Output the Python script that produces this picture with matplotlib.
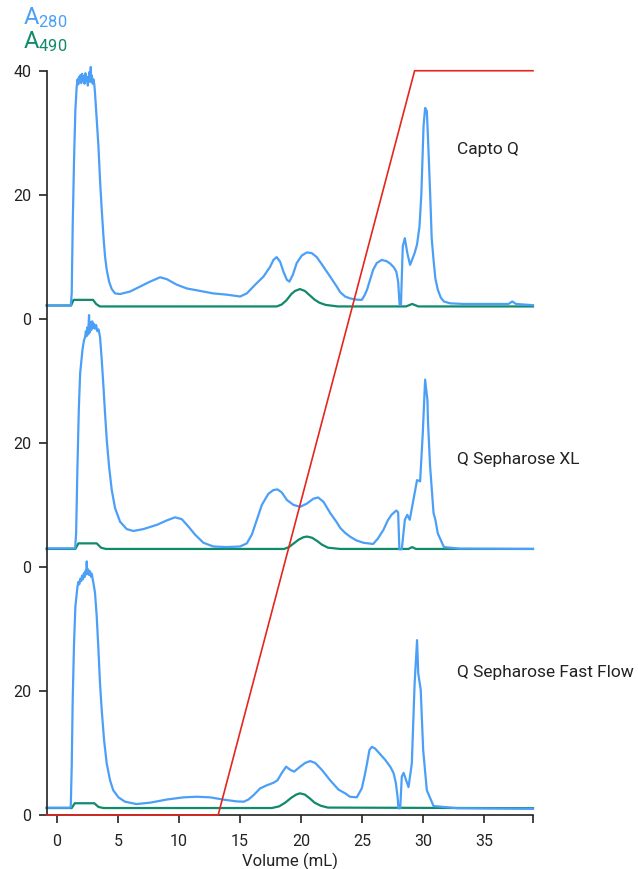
import matplotlib
matplotlib.use('Agg')
import matplotlib.pyplot as plt

plt.rcParams['font.family'] = ['Roboto', 'DejaVu Sans']
plt.rcParams['mathtext.fontset'] = 'custom'
plt.rcParams['mathtext.rm'] = 'Roboto'
plt.rcParams['mathtext.it'] = 'Roboto'

# --- Capto Q (top trace) ---
capto_x = [-0.85, 1.12, 1.20, 1.28, 1.39, 1.50, 1.61, 1.68, 1.74, 1.80, 1.86, 1.92, 1.98,
           2.05, 2.12, 2.18, 2.25, 2.32, 2.38, 2.45, 2.52, 2.58, 2.65, 2.72, 2.76, 2.80,
           2.85, 2.92, 2.98, 3.05, 3.11, 3.25, 3.39, 3.52, 3.66, 3.80, 3.93, 4.07, 4.26,
           4.48, 4.75, 5.16, 5.98, 6.80, 7.62, 8.44, 8.99, 9.81, 10.63, 11.72, 12.80,
           13.90, 15.00, 15.55, 16.23, 16.91, 17.46, 17.73, 18.00, 18.28, 18.55, 18.83,
           19.04, 19.32, 19.64, 20.05, 20.46, 20.87, 21.28, 21.83, 22.38, 22.92, 23.20,
           23.60, 24.00, 24.50, 24.97, 25.20, 25.40, 25.65, 25.90, 26.20, 26.60, 27.00,
           27.30, 27.60, 27.80, 27.95, 28.07, 28.18, 28.33, 28.50, 28.70, 28.93, 29.30,
           29.50, 29.70, 29.85, 30.03, 30.16, 30.30, 30.40, 30.57, 30.70, 30.85, 31.00,
           31.20, 31.45, 31.70, 32.20, 33.30, 37.00, 37.30, 37.60, 39.00]
capto_a280 = [2.15, 2.15, 4.1, 14.9, 25.6, 33.7, 37.5, 38.6, 37.8, 39.0, 38.2, 39.3, 38.0,
              39.5, 38.4, 39.1, 37.9, 39.6, 38.3, 39.0, 37.6, 38.8, 39.8, 38.2, 40.6, 38.5,
              39.2, 37.9, 38.6, 37.8, 36.4, 32.1, 27.8, 22.4, 17.6, 13.3, 10.05, 7.9, 6.0,
              4.8, 4.1, 4.0, 4.4, 5.2, 6.0, 6.7, 6.4, 5.5, 4.9, 4.5, 4.1,
              3.9, 3.6, 4.1, 5.5, 6.8, 8.4, 9.5, 9.95, 9.2, 7.6, 6.3,
              6.0, 7.1, 9.0, 10.2, 10.7, 10.6, 9.95, 8.4, 6.8, 5.2, 4.3,
              3.6, 3.3, 3.1, 3.06, 3.8, 4.7, 6.3, 7.9, 9.0, 9.5, 9.3,
              8.9, 8.3, 7.6, 6.0, 2.26, 2.26, 11.7, 13.0, 10.6, 8.7, 10.6,
              12.0, 14.9, 20.0, 31.0, 34.0, 33.5, 29.0, 20.3, 13.0, 9.5, 6.5,
              4.7, 3.4, 2.8, 2.5, 2.4, 2.4, 2.8, 2.4, 2.2]
capto_a490_x = [-0.85, 1.15, 1.35, 2.95, 3.2, 3.5, 18.0, 18.4, 18.8, 19.2, 19.5, 19.9,
                20.3, 20.7, 21.1, 21.5, 22.0, 23.0, 28.6, 29.1, 29.6, 39.0]
capto_a490 = [2.15, 2.15, 3.06, 3.06, 2.4, 2.0, 2.0, 2.3, 3.0, 4.0, 4.5, 4.8,
              4.5, 3.8, 3.1, 2.6, 2.25, 2.0, 2.0, 2.4, 2.0, 2.0]

# --- Q Sepharose XL (middle trace) ---
xl_x = [-0.85, 1.48, 1.56, 1.67, 1.78, 1.89, 2.08, 2.20, 2.30, 2.36, 2.42, 2.48, 2.55,
        2.62, 2.66, 2.72, 2.80, 2.88, 2.95, 3.02, 3.10, 3.20, 3.30, 3.40, 3.52, 3.66,
        3.80, 3.93, 4.07, 4.26, 4.48, 4.75, 5.16, 5.71, 6.25, 7.07, 8.20, 8.99, 9.67,
        10.22, 10.77, 11.31, 11.99, 12.80, 13.90, 15.00, 15.55, 15.96, 16.37, 16.78,
        17.32, 17.73, 18.06, 18.42, 18.83, 19.37, 19.92, 20.46, 21.00, 21.40, 21.83,
        22.38, 22.92, 23.20, 23.60, 24.00, 24.50, 25.10, 25.90, 26.30, 26.75, 27.10,
        27.40, 27.80, 27.95, 28.05, 28.25, 28.50, 28.70, 28.90, 29.20, 29.50, 29.75,
        29.97, 30.16, 30.35, 30.40, 30.57, 30.85, 31.00, 31.20, 31.70, 33.00, 39.00]
xl_a280 = [3.0, 3.0, 5.4, 16.2, 25.3, 31.2, 35.0, 36.5, 37.1, 38.0, 37.2, 38.6, 37.5,
           40.6, 37.8, 39.5, 38.2, 39.6, 38.5, 39.2, 38.4, 39.0, 38.0, 38.3, 37.1, 33.4,
           29.1, 24.8, 20.5, 16.2, 12.4, 9.5, 7.3, 6.1, 5.8, 6.1, 6.8, 7.5, 8.0,
           7.7, 6.5, 5.2, 3.9, 3.3, 3.2, 3.3, 3.8, 5.2, 7.6, 10.0,
           11.8, 12.4, 12.5, 12.0, 10.8, 10.0, 9.7, 10.2, 11.0, 11.2, 10.5,
           8.7, 7.2, 6.3, 5.5, 4.9, 4.3, 3.9, 3.7, 4.6, 6.0, 7.5,
           8.4, 9.1, 8.8, 2.85, 2.85, 7.6, 8.4, 7.6, 10.8, 14.0, 13.8,
           21.6, 30.2, 26.9, 23.2, 16.2, 8.7, 7.6, 5.4, 3.2, 2.95, 2.9]
xl_a490_x = [-0.85, 1.5, 1.75, 3.25, 3.6, 4.0, 18.6, 19.0, 19.4, 19.8, 20.2, 20.5,
             20.9, 21.3, 21.7, 22.2, 23.2, 28.8, 29.1, 29.4, 39.0]
xl_a490 = [2.9, 2.9, 3.8, 3.8, 3.1, 2.9, 2.9, 3.2, 3.8, 4.4, 4.8, 4.9,
           4.7, 4.2, 3.6, 3.1, 2.9, 2.9, 3.2, 2.9, 2.9]

# --- Q Sepharose Fast Flow (bottom trace) ---
ff_x = [-0.85, 1.07, 1.12, 1.20, 1.28, 1.39, 1.50, 1.67, 1.75, 1.82, 1.90, 1.97, 2.05,
        2.12, 2.20, 2.27, 2.34, 2.40, 2.43, 2.47, 2.54, 2.62, 2.70, 2.78, 2.85, 2.92,
        2.98, 3.11, 3.25, 3.39, 3.52, 3.66, 3.85, 4.07, 4.34, 4.60, 5.03, 5.57, 6.50,
        7.62, 8.99, 10.36, 11.45, 12.54, 13.60, 14.70, 15.30, 15.68, 16.10, 16.64,
        17.20, 17.73, 18.06, 18.42, 18.77, 19.10, 19.43, 19.92, 20.33, 20.74, 21.15,
        21.69, 22.38, 23.06, 23.61, 24.00, 24.56, 24.97, 25.19, 25.40, 25.60, 25.80,
        26.07, 26.48, 26.89, 27.30, 27.57, 27.76, 27.90, 27.98, 28.12, 28.25, 28.40,
        28.80, 29.07, 29.30, 29.50, 29.60, 29.80, 30.00, 30.30, 30.85, 32.80, 39.00]
ff_a280 = [1.18, 1.18, 1.3, 7.8, 18.5, 27.7, 33.6, 36.8, 37.6, 37.2, 38.1, 37.7, 38.6,
           38.0, 39.0, 38.4, 39.4, 38.8, 40.9, 38.9, 39.6, 38.7, 39.3, 38.4, 38.9, 38.0,
           37.4, 35.8, 32.0, 26.6, 21.2, 16.9, 12.1, 8.3, 5.6, 4.0, 2.85, 2.15, 1.77,
           1.99, 2.5, 2.85, 2.95, 2.85, 2.5, 2.2, 2.15, 2.5, 3.2, 4.3,
           4.8, 5.2, 5.6, 6.8, 7.8, 7.3, 7.0, 7.8, 8.4, 8.7, 8.4,
           7.3, 5.6, 4.1, 3.5, 2.95, 2.85, 4.3, 6.2, 8.3, 10.5, 11.0,
           10.7, 9.8, 8.9, 7.8, 6.8, 5.2, 3.0, 1.08, 1.08, 6.2, 6.8,
           4.5, 8.3, 21.2, 28.2, 22.8, 20.2, 10.5, 4.0, 1.45, 1.1, 1.0]
ff_a490_x = [-0.85, 1.2, 1.45, 3.05, 3.4, 3.8, 17.6, 18.2, 18.7, 19.2, 19.6, 19.9,
             20.3, 20.7, 21.1, 21.6, 22.2, 39.0]
ff_a490 = [1.13, 1.13, 1.9, 1.9, 1.3, 1.13, 1.13, 1.4, 2.0, 2.8, 3.3, 3.5,
           3.3, 2.7, 2.0, 1.5, 1.2, 1.1]

# --- salt gradient (% B) ---
grad_x = [-0.85, 13.2, 29.3, 39.0]
grad_b = [0, 0, 100, 100]

names = ['Capto Q', 'Q Sepharose XL', 'Q Sepharose Fast Flow']
label_y = [27.3, 17.3, 22.9]

blue = '#4B9FF7'
green = '#108A6B'
red = '#E5261D'

traces = [(capto_x, capto_a280, capto_a490_x, capto_a490),
          (xl_x, xl_a280, xl_a490_x, xl_a490),
          (ff_x, ff_a280, ff_a490_x, ff_a490)]
offsets = [80, 40, 0]

fig = plt.figure(figsize=(6.38, 8.69), dpi=100)
ax = fig.add_axes([0.0732, 0.0621, 0.7622, 0.8565])

for (x280, y280, x490, y490), off, name, ly in zip(traces, offsets, names, label_y):
    ax.plot(x490, [v + off for v in y490], color=green, lw=1.6, clip_on=False,
            solid_joinstyle='round')
    ax.plot(x280, [v + off for v in y280], color=blue, lw=1.6, clip_on=False,
            solid_joinstyle='round')
    ax.text(32.8, ly + off, name, fontsize=12.5, color='#222222', va='center', ha='left')

ax.plot(grad_x, [b * 1.2 for b in grad_b], color=red, lw=1.2, clip_on=False, zorder=5)

ax.set_xlim(-0.85, 39.0)
ax.set_ylim(0, 120)
ax.set_xticks([0, 5, 10, 15, 20, 25, 30, 35])
ax.set_xticks([39], minor=True)
ax.set_yticks([0, 20, 40, 60, 80, 100, 120])
ax.set_yticklabels(['0', '20', '0', '20', '0', '20', '40'])
ax.tick_params(axis='both', which='both', direction='out', length=6, width=1.2,
               labelsize=11.5, colors='#222222')
ax.tick_params(axis='x', pad=7.5)
ax.tick_params(axis='y', pad=5)
ax.spines[['top', 'right']].set_visible(False)
for s in ['left', 'bottom']:
    ax.spines[s].set_linewidth(1.2)
    ax.spines[s].set_color('#222222')
ax.set_xlabel('Volume (mL)', fontsize=12, color='#222222', labelpad=2.5)

fig.text(0.036, 0.980, r'A$_{280}$', color=blue, fontsize=17, va='center', ha='left')
fig.text(0.036, 0.952, r'A$_{490}$', color=green, fontsize=17, va='center', ha='left')

fig.savefig('out.png', dpi=100)
